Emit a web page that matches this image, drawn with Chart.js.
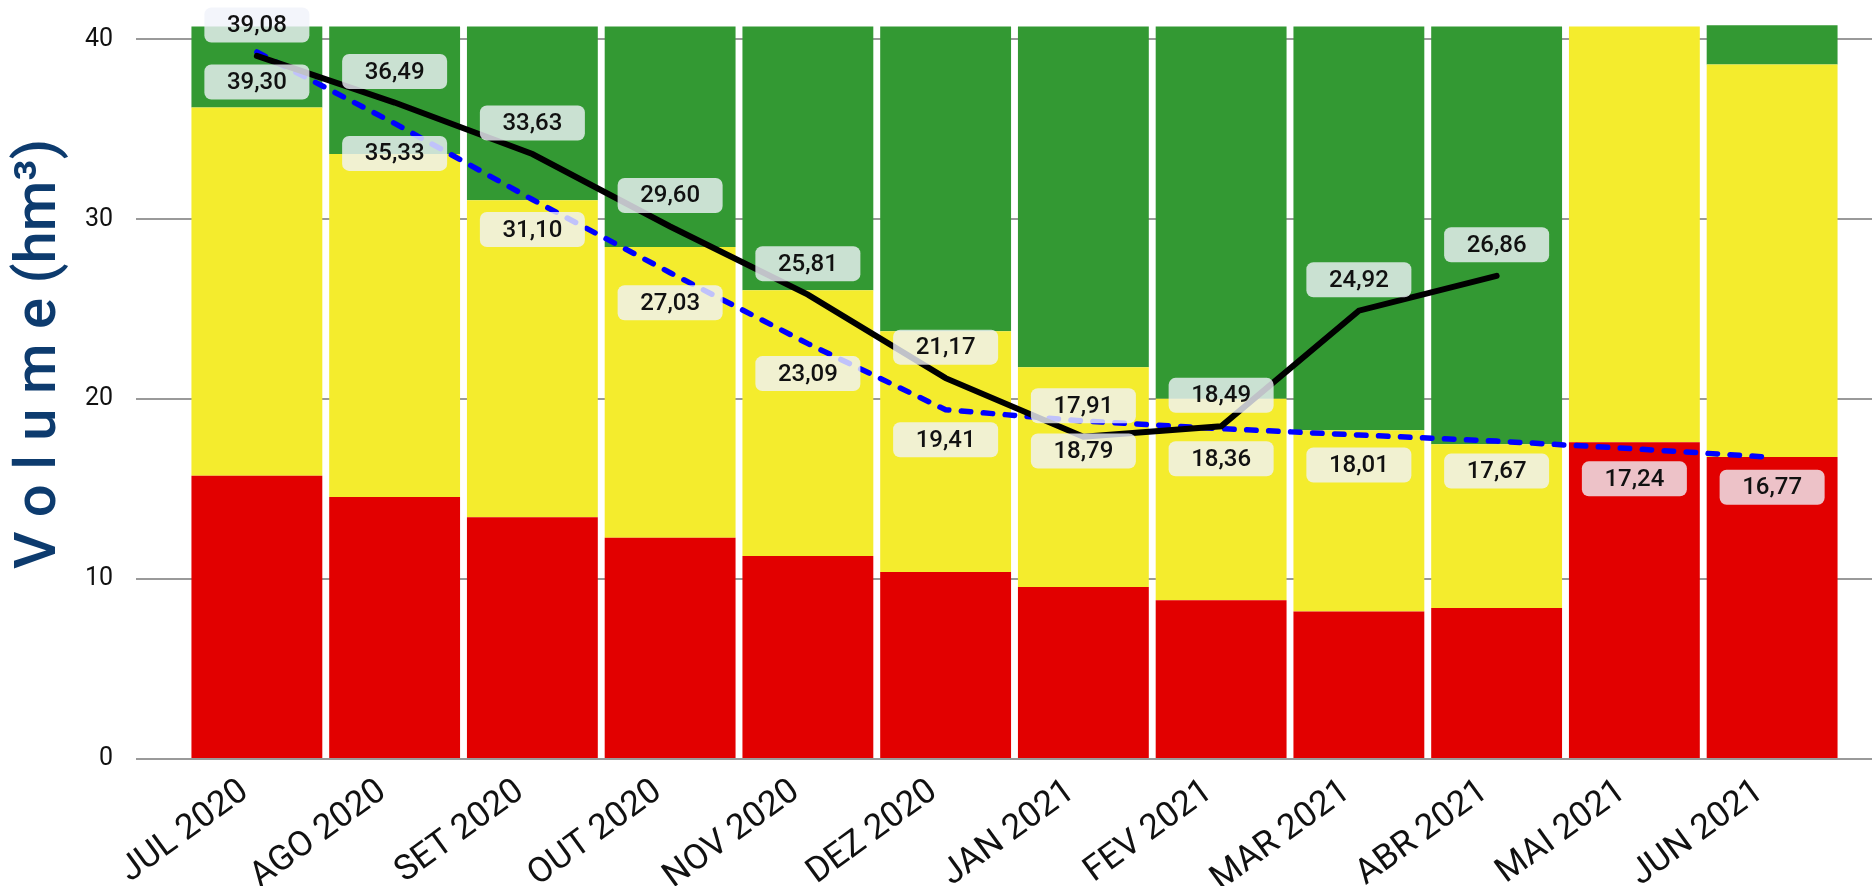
<!DOCTYPE html>
<html lang="pt-BR">
<head>
    <meta charset="UTF-8">
    <meta name="viewport" content="width=device-width, initial-scale=1.0">
    <title>Volume armazenado (hm³)</title>
    <style>
        body { margin: 0; background: #fff; }
        #volumeChart { display: block; }
    </style>
</head>
<body>
    <canvas id="volumeChart" width="1872" height="886"></canvas>

    <script src="https://cdn.jsdelivr.net/npm/chart.js"></script>
    <script>
        // Meses (eixo X)
        const meses = ['JUL 2020', 'AGO 2020', 'SET 2020', 'OUT 2020', 'NOV 2020', 'DEZ 2020',
                       'JAN 2021', 'FEV 2021', 'MAR 2021', 'ABR 2021', 'MAI 2021', 'JUN 2021'];

        // Faixas empilhadas (hm³): vermelha embaixo, amarela no meio, verde em cima
        const faixaVermelha = [15.74, 14.56, 13.44, 12.30, 11.29, 10.39, 9.56, 8.83, 8.20, 8.40, 17.61, 16.78];
        const faixaAmarela  = [20.48, 19.07, 17.62, 16.16, 14.77, 13.39, 12.22, 11.19, 10.08, 9.10, 23.11, 21.83];
        const faixaVerde    = [4.50, 7.09, 9.66, 12.26, 14.66, 16.94, 18.94, 20.70, 22.44, 23.22, 0, 2.17];

        // Volume observado (linha preta) e projetado (linha azul tracejada)
        const volumeObservado = [39.08, 36.49, 33.63, 29.60, 25.81, 21.17, 17.91, 18.49, 24.92, 26.86, null, null];
        const volumeProjetado = [39.30, 35.33, 31.10, 27.03, 23.09, 19.41, 18.79, 18.36, 18.01, 17.67, 17.24, 16.77];

        // Eixo Y
        const yMin = 0;
        const yMax = 40.8;
        const yPasso = 10;

        const fonte = 'Roboto, "Open Sans", sans-serif';
        const corGrade = '#9a9a9a';

        function formata(v) {
            return v.toFixed(2).replace('.', ',');
        }

        // sem folga extra em cima/embaixo por causa dos rotulos do eixo Y
        function semFolga(scale) {
            scale.paddingTop = 0;
            scale.paddingBottom = 0;
        }

        // Caixinhas com os valores das linhas (preta acima, azul abaixo)
        const rotulos = {
            id: 'rotulos',
            afterDatasetsDraw(chart) {
                const ctx = chart.ctx;
                [[0, -31], [1, 30]].forEach(([idx, dy]) => {
                    const meta = chart.getDatasetMeta(idx);
                    const valores = chart.data.datasets[idx].data;
                    meta.data.forEach((pt, i) => {
                        if (valores[i] === null) return;
                        const cx = pt.x;
                        const cy = pt.y + dy;
                        ctx.save();
                        ctx.fillStyle = 'rgba(240, 243, 250, 0.8)';
                        ctx.beginPath();
                        ctx.roundRect(cx - 52.5, cy - 17.5, 105, 35, 7);
                        ctx.fill();
                        ctx.fillStyle = '#111';
                        ctx.font = '500 24px ' + fonte;
                        ctx.textAlign = 'center';
                        ctx.textBaseline = 'middle';
                        ctx.fillText(formata(valores[i]), cx, cy + 1);
                        ctx.restore();
                    });
                });
            }
        };

        // Titulo do eixo Y
        const tituloY = {
            id: 'tituloY',
            afterDraw(chart) {
                const ctx = chart.ctx;
                ctx.save();
                ctx.translate(55, 354);
                ctx.rotate(-Math.PI / 2);
                ctx.font = '500 58px ' + fonte;
                ctx.fillStyle = '#0d3b6e';
                ctx.textAlign = 'center';
                ctx.textBaseline = 'alphabetic';
                ctx.fillText('V o l u m e (hm³)', 0, 0);
                ctx.restore();
            }
        };

        const ctx = document.getElementById('volumeChart').getContext('2d');
        const volumeChart = new Chart(ctx, {
            type: 'bar',
            data: {
                labels: meses,
                datasets: [
                    {
                        type: 'line',
                        label: 'Volume observado',
                        data: volumeObservado,
                        stack: 'observado',
                        borderColor: '#000',
                        borderWidth: 6,
                        borderCapStyle: 'round',
                        pointRadius: 0,
                        tension: 0,
                        order: 0
                    },
                    {
                        type: 'line',
                        label: 'Volume projetado',
                        data: volumeProjetado,
                        stack: 'projetado',
                        borderColor: '#0000ff',
                        borderWidth: 5.5,
                        borderDash: [9.5, 12.5],
                        borderCapStyle: 'round',
                        pointRadius: 0,
                        tension: 0,
                        order: 1
                    },
                    {
                        label: 'Faixa vermelha',
                        data: faixaVermelha,
                        backgroundColor: '#e20000',
                        stack: 'faixas',
                        order: 2
                    },
                    {
                        label: 'Faixa amarela',
                        data: faixaAmarela,
                        backgroundColor: '#f4ec2d',
                        stack: 'faixas',
                        order: 2
                    },
                    {
                        label: 'Faixa verde',
                        data: faixaVerde,
                        backgroundColor: '#339933',
                        stack: 'faixas',
                        order: 2
                    }
                ]
            },
            options: {
                responsive: false,
                animation: false,
                barPercentage: 0.95,
                categoryPercentage: 1.0,
                layout: {
                    padding: { top: 25, left: 0, right: 0, bottom: 0 }
                },
                scales: {
                    x: {
                        stacked: true,
                        grid: { display: false },
                        border: { display: false },
                        ticks: {
                            color: '#111',
                            font: { family: fonte, size: 35 },
                            minRotation: 36,
                            maxRotation: 36,
                            labelOffset: -12,
                            padding: 4
                        },
                        afterFit(scale) { scale.height = 127; }
                    },
                    y: {
                        stacked: true,
                        min: yMin,
                        max: yMax,
                        border: { display: false },
                        grid: {
                            color: corGrade,
                            lineWidth: 2,
                            tickLength: 52,
                            tickColor: corGrade
                        },
                        ticks: {
                            stepSize: yPasso,
                            includeBounds: false,
                            color: '#111',
                            font: { family: fonte, size: 25 },
                            padding: 23
                        },
                        afterFit(scale) {
                            scale.width = 188;
                            semFolga(scale);
                        }
                    },
                    // eixo fantasma so para prolongar a grade a direita
                    yDireita: {
                        position: 'right',
                        min: yMin,
                        max: yMax,
                        border: { display: false },
                        grid: {
                            drawOnChartArea: false,
                            color: corGrade,
                            lineWidth: 2,
                            tickLength: 31,
                            tickColor: corGrade
                        },
                        ticks: { display: false, stepSize: yPasso, includeBounds: false },
                        afterFit(scale) {
                            scale.width = 31;
                            semFolga(scale);
                        }
                    }
                },
                plugins: {
                    legend: { display: false },
                    tooltip: { enabled: false }
                }
            },
            plugins: [rotulos, tituloY]
        });
    </script>
</body>
</html>
